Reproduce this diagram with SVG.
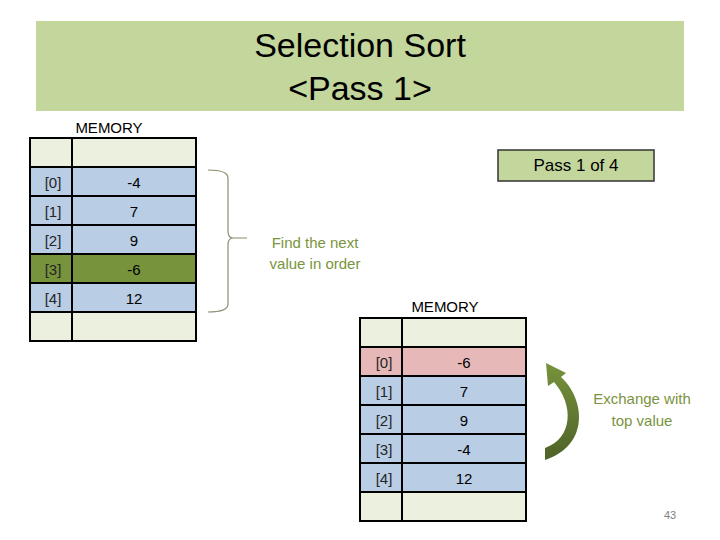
<svg xmlns="http://www.w3.org/2000/svg" width="720" height="540" viewBox="0 0 720 540">
<defs>
<style>
.t{font-family:"Liberation Sans",Arial,sans-serif;}
.cell{stroke:#000;stroke-width:2;}
.hd{fill:#ebf1de;}
.bl{fill:#b9cde5;}
.dg{fill:#77933c;}
.pk{fill:#e6b9b8;}
.idx{font-size:15px;fill:#262626;text-anchor:middle;}
.val{font-size:15px;fill:#000;text-anchor:middle;}
.mem{font-size:15px;fill:#000;text-anchor:middle;}
.note{font-size:15px;fill:#7a9440;text-anchor:middle;}
</style>
<linearGradient id="ag" x1="0" y1="1" x2="0" y2="0">
<stop offset="0" stop-color="#4f6228"/>
<stop offset="1" stop-color="#77933c"/>
</linearGradient>
</defs>
<rect width="720" height="540" fill="#fff"/>

<g id="title">
<rect x="36" y="21" width="648" height="90" fill="#c3d69b"/>
<text class="t" x="360" y="57" font-size="34" text-anchor="middle" fill="#000">Selection Sort</text>
<text class="t" x="360" y="100" font-size="34" text-anchor="middle" fill="#000">&lt;Pass 1&gt;</text>
</g>

<g id="pass-box">
<rect x="498" y="150" width="156" height="31" fill="#c3d69b" stroke="#333" stroke-width="1.5"/>
<text class="t" x="576" y="171" font-size="17" text-anchor="middle" fill="#000">Pass 1 of 4</text>
</g>

<g id="memory-before">
<text class="t mem" x="109" y="133">MEMORY</text>
<rect class="cell hd" x="30" y="138" width="42" height="29"/><rect class="cell hd" x="72" y="138" width="124" height="29"/>
<rect class="cell bl" x="30" y="167" width="42" height="29"/><rect class="cell bl" x="72" y="167" width="124" height="29"/>
<rect class="cell bl" x="30" y="196" width="42" height="29"/><rect class="cell bl" x="72" y="196" width="124" height="29"/>
<rect class="cell bl" x="30" y="225" width="42" height="29"/><rect class="cell bl" x="72" y="225" width="124" height="29"/>
<rect class="cell dg" x="30" y="254" width="42" height="29"/><rect class="cell dg" x="72" y="254" width="124" height="29"/>
<rect class="cell bl" x="30" y="283" width="42" height="29"/><rect class="cell bl" x="72" y="283" width="124" height="29"/>
<rect class="cell hd" x="30" y="312" width="42" height="29"/><rect class="cell hd" x="72" y="312" width="124" height="29"/>
<text class="t idx" x="53" y="188">[0]</text><text class="t val" x="134" y="188">-4</text>
<text class="t idx" x="53" y="217">[1]</text><text class="t val" x="134" y="217">7</text>
<text class="t idx" x="53" y="246">[2]</text><text class="t val" x="134" y="246">9</text>
<text class="t idx" x="53" y="275">[3]</text><text class="t val" x="134" y="275">-6</text>
<text class="t idx" x="53" y="304">[4]</text><text class="t val" x="134" y="304">12</text>
</g>

<g id="memory-after">
<text class="t mem" x="445" y="312">MEMORY</text>
<rect class="cell hd" x="360" y="318" width="42" height="29"/><rect class="cell hd" x="402" y="318" width="124" height="29"/>
<rect class="cell pk" x="360" y="347" width="42" height="29"/><rect class="cell pk" x="402" y="347" width="124" height="29"/>
<rect class="cell bl" x="360" y="376" width="42" height="29"/><rect class="cell bl" x="402" y="376" width="124" height="29"/>
<rect class="cell bl" x="360" y="405" width="42" height="29"/><rect class="cell bl" x="402" y="405" width="124" height="29"/>
<rect class="cell bl" x="360" y="434" width="42" height="29"/><rect class="cell bl" x="402" y="434" width="124" height="29"/>
<rect class="cell bl" x="360" y="463" width="42" height="29"/><rect class="cell bl" x="402" y="463" width="124" height="29"/>
<rect class="cell hd" x="360" y="492" width="42" height="29"/><rect class="cell hd" x="402" y="492" width="124" height="29"/>
<text class="t idx" x="384" y="368">[0]</text><text class="t val" x="464" y="368">-6</text>
<text class="t idx" x="384" y="397">[1]</text><text class="t val" x="464" y="397">7</text>
<text class="t idx" x="384" y="426">[2]</text><text class="t val" x="464" y="426">9</text>
<text class="t idx" x="384" y="455">[3]</text><text class="t val" x="464" y="455">-4</text>
<text class="t idx" x="384" y="484">[4]</text><text class="t val" x="464" y="484">12</text>
</g>

<g id="connectors">
<path d="M208,170 Q228,170 228,178 L228,231 Q228,238 233,238 Q228,238 228,245 L228,304 Q228,312 208,312 M233,238 L247,238" fill="none" stroke="#8b8c70" stroke-width="1.2"/>
<path d="M548,386 L546,363 L566,373 L561,377 C586,400 589,446 545,460 L545,448 C573,438 574,405 554,382 Z" fill="url(#ag)"/>
</g>

<g id="find-note">
<text class="t note" x="315" y="248">Find the next</text>
<text class="t note" x="315" y="269">value in order</text>
</g>

<g id="exchange-note">
<text class="t note" x="642" y="404">Exchange with</text>
<text class="t note" x="642" y="426">top value</text>
</g>

<text class="t" x="670" y="519" font-size="11" text-anchor="middle" fill="#7f7f7f">43</text>
</svg>
